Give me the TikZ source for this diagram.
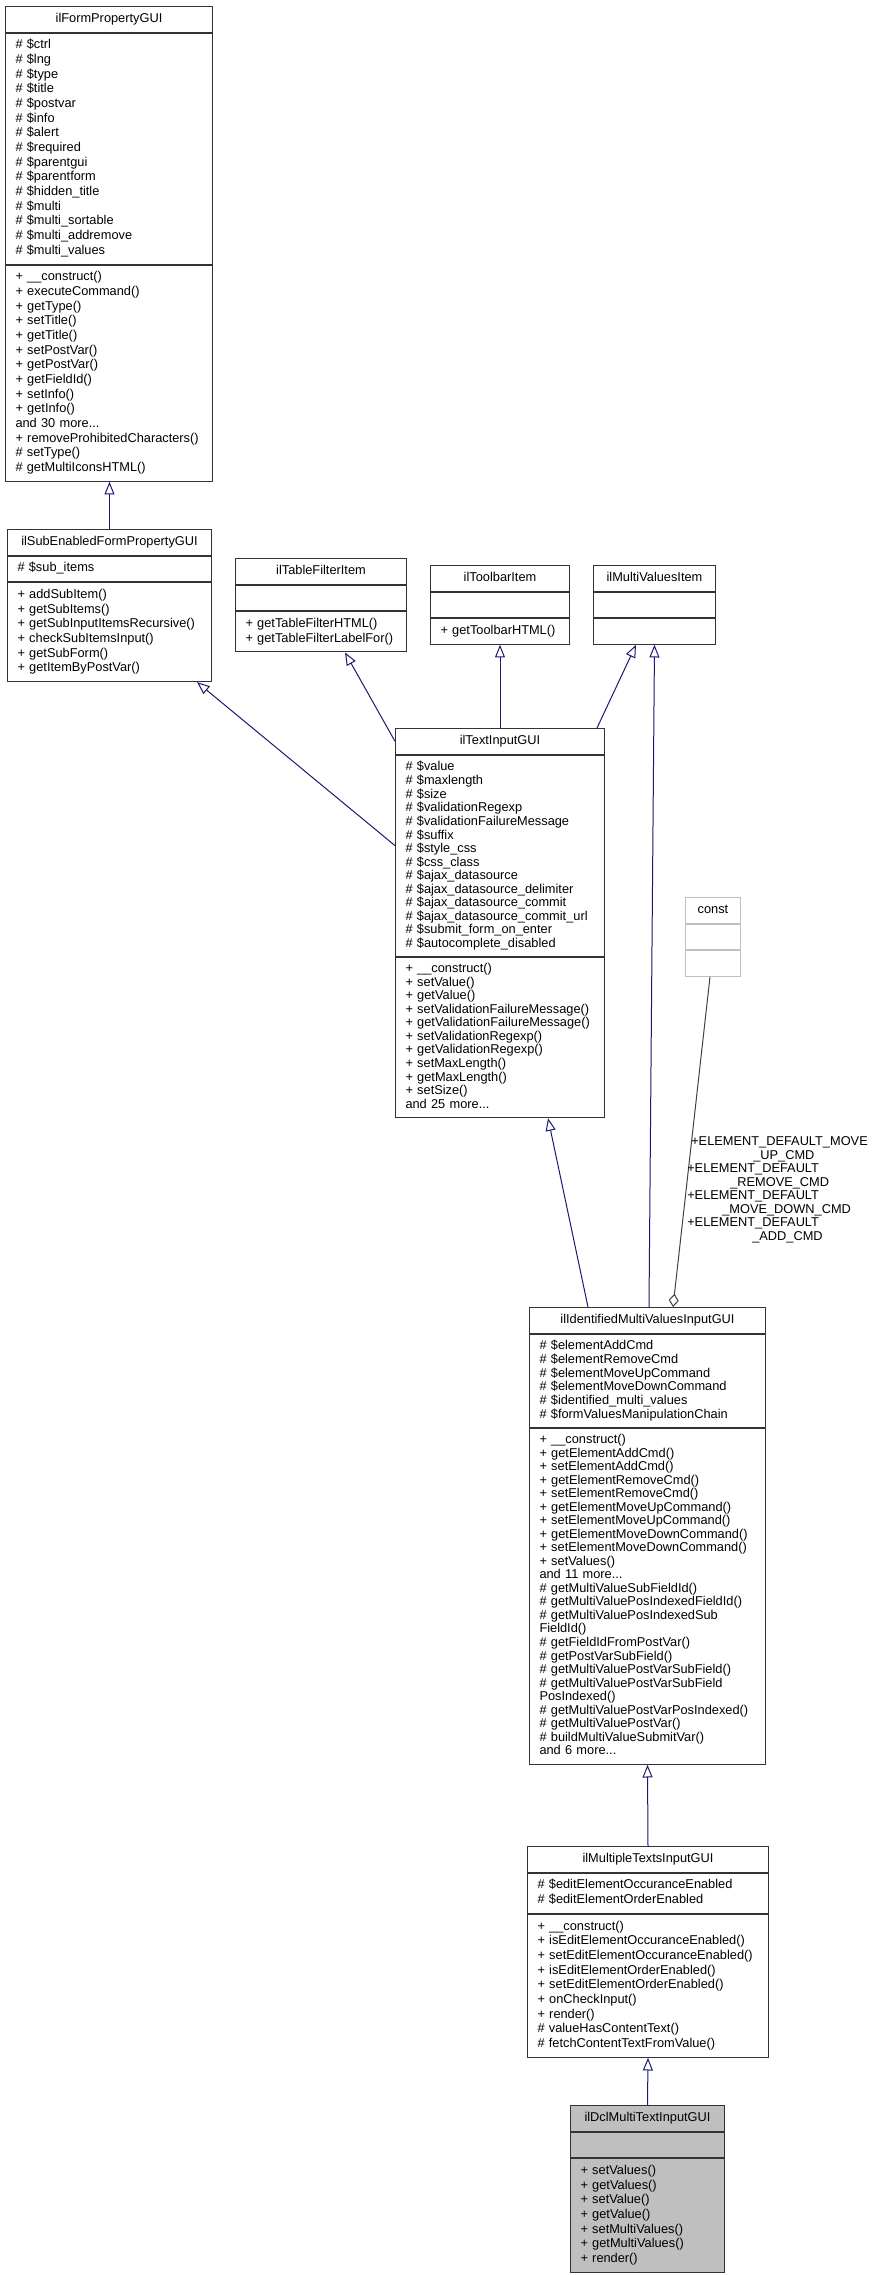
\documentclass[tikz,border=0pt]{standalone}
\usepackage{fontspec}
\setmainfont{Liberation Sans}
\usetikzlibrary{arrows.meta, calc, positioning}

\definecolor{edgeblue}{HTML}{191970}
\definecolor{boxgray}{HTML}{BFBFBF}
\definecolor{linegray}{HTML}{404040}

\begin{document}
\begin{tikzpicture}[
    x=0.75pt, y=-0.75pt, % one unit = one pixel, y grows downwards
    >={Triangle[open, length=9.5pt, width=7.5pt]}, % hollow tip for inheritance
    umlpart/.style={draw=black!80, line width=0.75pt, fill=white, inner xsep=7.5pt, inner ysep=4.1pt,
        font=\fontsize{9.6}{11}\selectfont, execute at begin node=\strut, execute at end node=\strut},
    classname/.style={umlpart, align=center, text width=#1}, % top compartment
    members/.style={umlpart, align=left, text width=#1}, % attributes and methods
    dense/.style={font=\fontsize{9.6}{10.15}\selectfont}, % tighter line spacing
    isa/.style={->, draw=edgeblue, line width=0.75pt}, % inheritance edge
    uses/.style={{Diamond[open, length=10pt, width=7.5pt]}-, draw=linegray, line width=0.75pt}
]
    \useasboundingbox (0,0) rectangle (882,2275);

    % ilFormPropertyGUI
    \node[classname=140.25pt, anchor=north west] (fpgT) at (5,6) {ilFormPropertyGUI};
    \node[members=140.25pt, below=0pt of fpgT] (fpgA) {\# \$ctrl\\
        \# \$lng\\
        \# \$type\\
        \# \$title\\
        \# \$postvar\\
        \# \$info\\
        \# \$alert\\
        \# \$required\\
        \# \$parentgui\\
        \# \$parentform\\
        \# \$hidden\_title\\
        \# \$multi\\
        \# \$multi\_sortable\\
        \# \$multi\_addremove\\
        \# \$multi\_values};
    \node[members=140.25pt, below=0pt of fpgA] (fpgM) {+ \_\_construct()\\
        + executeCommand()\\
        + getType()\\
        + setTitle()\\
        + getTitle()\\
        + setPostVar()\\
        + getPostVar()\\
        + getFieldId()\\
        + setInfo()\\
        + getInfo()\\
        and 30 more...\\
        + removeProhibitedCharacters()\\
        \# setType()\\
        \# getMultiIconsHTML()};

    % ilSubEnabledFormPropertyGUI
    \node[classname=138pt, anchor=north west] (sefpT) at (7,529) {ilSubEnabledFormPropertyGUI};
    \node[members=138pt, below=0pt of sefpT] (sefpA) {\# \$sub\_items};
    \node[members=138pt, below=0pt of sefpA] (sefpM) {+ addSubItem()\\
        + getSubItems()\\
        + getSubInputItemsRecursive()\\
        + checkSubItemsInput()\\
        + getSubForm()\\
        + getItemByPostVar()};

    % interfaces in the second row
    \node[classname=113.25pt, anchor=north west] (tfiT) at (235,558) {ilTableFilterItem};
    \node[members=113.25pt, below=0pt of tfiT] (tfiA) {};
    \node[members=113.25pt, below=0pt of tfiA] (tfiM) {+ getTableFilterHTML()\\
        + getTableFilterLabelFor()};

    \node[classname=89.25pt, anchor=north west] (tbiT) at (430,565) {ilToolbarItem};
    \node[members=89.25pt, below=0pt of tbiT] (tbiA) {};
    \node[members=89.25pt, below=0pt of tbiA] (tbiM) {+ getToolbarHTML()};

    \node[classname=76.5pt, anchor=north west] (mviT) at (593,565) {ilMultiValuesItem};
    \node[members=76.5pt, below=0pt of mviT] (mviA) {};
    \node[members=76.5pt, below=0pt of mviA] (mviM) {};

    % ilTextInputGUI
    \node[classname=141.75pt, anchor=north west] (tigT) at (395,728) {ilTextInputGUI};
    \node[members=141.75pt, dense, below=0pt of tigT] (tigA) {\# \$value\\
        \# \$maxlength\\
        \# \$size\\
        \# \$validationRegexp\\
        \# \$validationFailureMessage\\
        \# \$suffix\\
        \# \$style\_css\\
        \# \$css\_class\\
        \# \$ajax\_datasource\\
        \# \$ajax\_datasource\_delimiter\\
        \# \$ajax\_datasource\_commit\\
        \# \$ajax\_datasource\_commit\_url\\
        \# \$submit\_form\_on\_enter\\
        \# \$autocomplete\_disabled};
    \node[members=141.75pt, dense, below=0pt of tigA] (tigM) {+ \_\_construct()\\
        + setValue()\\
        + getValue()\\
        + setValidationFailureMessage()\\
        + getValidationFailureMessage()\\
        + setValidationRegexp()\\
        + getValidationRegexp()\\
        + setMaxLength()\\
        + getMaxLength()\\
        + setSize()\\
        and 25 more...};

    % const
    \node[classname=26.25pt, draw=boxgray, anchor=north west] (cstT) at (685,897) {const};
    \node[members=26.25pt, draw=boxgray, below=0pt of cstT] (cstA) {};
    \node[members=26.25pt, draw=boxgray, below=0pt of cstA] (cstM) {};

    % ilIdentifiedMultiValuesInputGUI
    \node[classname=162pt, anchor=north west] (imvT) at (529,1307) {ilIdentifiedMultiValuesInputGUI};
    \node[members=162pt, dense, below=0pt of imvT] (imvA) {\# \$elementAddCmd\\
        \# \$elementRemoveCmd\\
        \# \$elementMoveUpCommand\\
        \# \$elementMoveDownCommand\\
        \# \$identified\_multi\_values\\
        \# \$formValuesManipulationChain};
    \node[members=162pt, dense, below=0pt of imvA] (imvM) {+ \_\_construct()\\
        + getElementAddCmd()\\
        + setElementAddCmd()\\
        + getElementRemoveCmd()\\
        + setElementRemoveCmd()\\
        + getElementMoveUpCommand()\\
        + setElementMoveUpCommand()\\
        + getElementMoveDownCommand()\\
        + setElementMoveDownCommand()\\
        + setValues()\\
        and 11 more...\\
        \# getMultiValueSubFieldId()\\
        \# getMultiValuePosIndexedFieldId()\\
        \# getMultiValuePosIndexedSub\\
        FieldId()\\
        \# getFieldIdFromPostVar()\\
        \# getPostVarSubField()\\
        \# getMultiValuePostVarSubField()\\
        \# getMultiValuePostVarSubField\\
        PosIndexed()\\
        \# getMultiValuePostVarPosIndexed()\\
        \# getMultiValuePostVar()\\
        \# buildMultiValueSubmitVar()\\
        and 6 more...};

    % ilMultipleTextsInputGUI
    \node[classname=165.75pt, anchor=north west] (mtT) at (527,1846) {ilMultipleTextsInputGUI};
    \node[members=165.75pt, below=0pt of mtT] (mtA) {\# \$editElementOccuranceEnabled\\
        \# \$editElementOrderEnabled};
    \node[members=165.75pt, below=0pt of mtA] (mtM) {+ \_\_construct()\\
        + isEditElementOccuranceEnabled()\\
        + setEditElementOccuranceEnabled()\\
        + isEditElementOrderEnabled()\\
        + setEditElementOrderEnabled()\\
        + onCheckInput()\\
        + render()\\
        \# valueHasContentText()\\
        \# fetchContentTextFromValue()};

    % ilDclMultiTextInputGUI (the documented class)
    \node[classname=100.5pt, fill=boxgray, anchor=north west] (dclT) at (570,2105) {ilDclMultiTextInputGUI};
    \node[members=100.5pt, fill=boxgray, below=0pt of dclT] (dclA) {};
    \node[members=100.5pt, fill=boxgray, below=0pt of dclA] (dclM) {+ setValues()\\
        + getValues()\\
        + setValue()\\
        + getValue()\\
        + setMultiValues()\\
        + getMultiValues()\\
        + render()};

    % Inheritance edges
    \draw[isa] (sefpT.north) -- (sefpT.north |- fpgM.south);
    \draw[isa] ($(tigA.north west)+(0,91)$) -- ($(sefpM.south west)+(190,0)$);
    \draw[isa] (tigT.west) -- ($(tfiM.south west)+(110,0)$);
    \draw[isa] (tbiM.south |- tigT.north) -- (tbiM.south);
    \draw[isa] ($(tigT.north east)+(-8,0)$) -- ($(mviM.south west)+(43,0)$);
    \draw[isa] ($(imvT.north west)+(120,0)$) -- (mviM.south);
    \draw[isa] ($(imvT.north west)+(59,0)$) -- ($(tigM.south west)+(153,0)$);
    \draw[isa] (mtT.north) -- (imvM.south);
    \draw[isa] (dclT.north) -- (mtM.south);

    % Aggregation from const, with its label
    \draw[uses] ($(imvT.north west)+(144,0)$) -- ($(cstM.south)+(-3,0)$);
    \node[anchor=north west, inner sep=0pt, align=left, font=\fontsize{9.6}{10.15}\selectfont,
        execute at begin node=\strut] (cstLbl) at (687,1136.5) {\hspace*{3pt}+ELEMENT\_DEFAULT\_MOVE\\
        \hspace*{49.5pt}\_UP\_CMD\\
        +ELEMENT\_DEFAULT\\
        \hspace*{32.25pt}\_REMOVE\_CMD\\
        +ELEMENT\_DEFAULT\\
        \hspace*{26.25pt}\_MOVE\_DOWN\_CMD\\
        +ELEMENT\_DEFAULT\\
        \hspace*{48.75pt}\_ADD\_CMD};

\end{tikzpicture}
\end{document}
